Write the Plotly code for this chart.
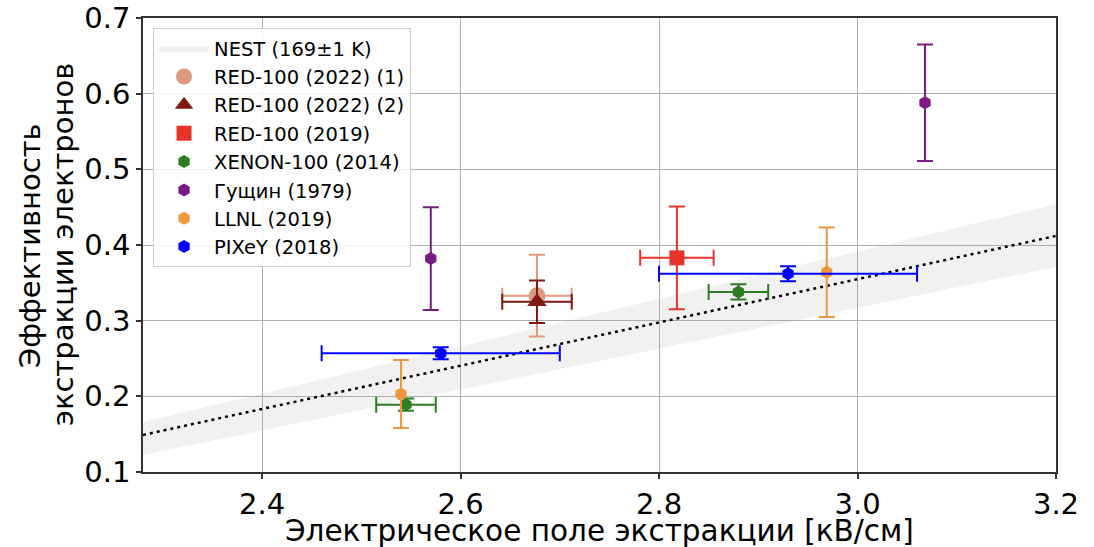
import plotly.graph_objects as go

# NEST model band
nest_x = [2.28, 2.5, 2.75, 3.0, 3.2]
nest_mid = [0.149, 0.212, 0.283, 0.355, 0.412]
nest_lo = [0.1225, 0.182, 0.250, 0.317, 0.371]
nest_hi = [0.166, 0.235, 0.313, 0.391, 0.454]

red22a_x = [2.677]; red22a_y = [0.333]; red22a_xe = [0.035]; red22a_ye = [0.054]
red22b_x = [2.677]; red22b_y = [0.325]; red22b_xe = [0.035]; red22b_ye = [0.028]
red19_x = [2.818]; red19_y = [0.383]; red19_xe = [0.037]; red19_ye = [0.068]
xenon_x = [2.545, 2.880]; xenon_y = [0.189, 0.338]; xenon_xe = [0.030, 0.030]; xenon_ye = [0.008, 0.010]
gus_x = [2.570, 3.068]; gus_y = [0.382, 0.588]; gus_ye = [0.068, 0.077]
llnl_x = [2.540, 2.969]; llnl_y = [0.203, 0.364]; llnl_ye = [0.045, 0.059]
pix_x = [2.580, 2.930]; pix_y = [0.257, 0.362]; pix_xe = [0.120, 0.130]; pix_ye = [0.008, 0.010]

xticks = [2.4, 2.6, 2.8, 3.0, 3.2]
yticks = [0.1, 0.2, 0.3, 0.4, 0.5, 0.6, 0.7]
xtitle = "Электрическое поле экстракции [кВ/см]"
ytitle_lines = ["Эффективность", "экстракции электронов"]

FONT = "DejaVu Sans"
fig = go.Figure()

fig.add_trace(go.Scatter(x=nest_x, y=nest_lo, mode="lines", line=dict(width=0),
                         showlegend=False, hoverinfo="skip"))
fig.add_trace(go.Scatter(x=nest_x, y=nest_hi, mode="lines", line=dict(width=0),
                         fill="tonexty", fillcolor="rgba(160,160,160,0.15)",
                         name="NEST (169±1 K)"))
fig.add_trace(go.Scatter(x=nest_x, y=nest_mid, mode="lines",
                         line=dict(color="black", width=2.5, dash="3px,4px"),
                         showlegend=False))

def ebar(arr, color, w=8):
    return dict(type="data", array=arr, visible=True, color=color, thickness=2, width=w)

def add(name, x, y, color, symbol, size, xe=None, ye=None):
    kw = {}
    if xe is not None:
        kw["error_x"] = ebar(xe, color)
    if ye is not None:
        kw["error_y"] = ebar(ye, color)
    fig.add_trace(go.Scatter(x=x, y=y, mode="markers", name=name,
                             marker=dict(color=color, symbol=symbol, size=size,
                                         line=dict(width=0)), **kw))

add("RED-100 (2022) (1)", red22a_x, red22a_y, "#dd9a7e", "circle", 17, red22a_xe, red22a_ye)
add("RED-100 (2022) (2)", red22b_x, red22b_y, "#7f1a10", "triangle-up", 17, red22b_xe, red22b_ye)
add("RED-100 (2019)", red19_x, red19_y, "#e8332a", "square", 15, red19_xe, red19_ye)
add("XENON-100 (2014)", xenon_x, xenon_y, "#2e7d22", "hexagon", 13, xenon_xe, xenon_ye)
add("Гущин (1979)", gus_x, gus_y, "#7b1a85", "hexagon", 13, None, gus_ye)
add("LLNL (2019)", llnl_x, llnl_y, "#f0963c", "hexagon", 13, None, llnl_ye)
add("PIXeY (2018)", pix_x, pix_y, "#0000ff", "hexagon", 13, pix_xe, pix_ye)

axis_common = dict(showline=True, linecolor="#333333", linewidth=1.5, mirror=True,
                   ticks="outside", ticklen=5, tickwidth=1.5, tickcolor="#333333",
                   showgrid=True, gridcolor="#b0b0b0", gridwidth=1, zeroline=False,
                   automargin=False,
                   tickfont=dict(family=FONT, size=29, color="black"))

fig.update_layout(
    width=1094, height=547,
    margin=dict(l=143, r=38, t=18, b=75),
    plot_bgcolor="white", paper_bgcolor="white",
    font=dict(family=FONT, color="black"),
    xaxis=dict(range=[2.28, 3.2], tickvals=xticks, ticktext=[f"{v:.1f}" for v in xticks],
               **axis_common),
    yaxis=dict(range=[0.1, 0.7], tickvals=yticks, ticktext=[f"{v:.1f}" for v in yticks],
               **axis_common),
    legend=dict(x=0.011, y=0.978, xanchor="left", yanchor="top", traceorder="normal",
                bgcolor="rgba(255,255,255,0.85)", bordercolor="#cccccc", borderwidth=1,
                font=dict(family=FONT, size=19.5), itemwidth=50),
)

fig.add_annotation(text=xtitle, xref="paper", yref="paper", x=0.5, y=-0.1295,
                   xanchor="center", yanchor="middle", showarrow=False,
                   font=dict(family=FONT, size=29.5, color="black"))
for xp, line in zip([-0.1238, -0.0876], ytitle_lines):
    fig.add_annotation(text=line, xref="paper", yref="paper", x=xp, y=0.5,
                       xanchor="center", yanchor="middle", textangle=-90,
                       showarrow=False, font=dict(family=FONT, size=29, color="black"))

fig.write_html("out.html")
